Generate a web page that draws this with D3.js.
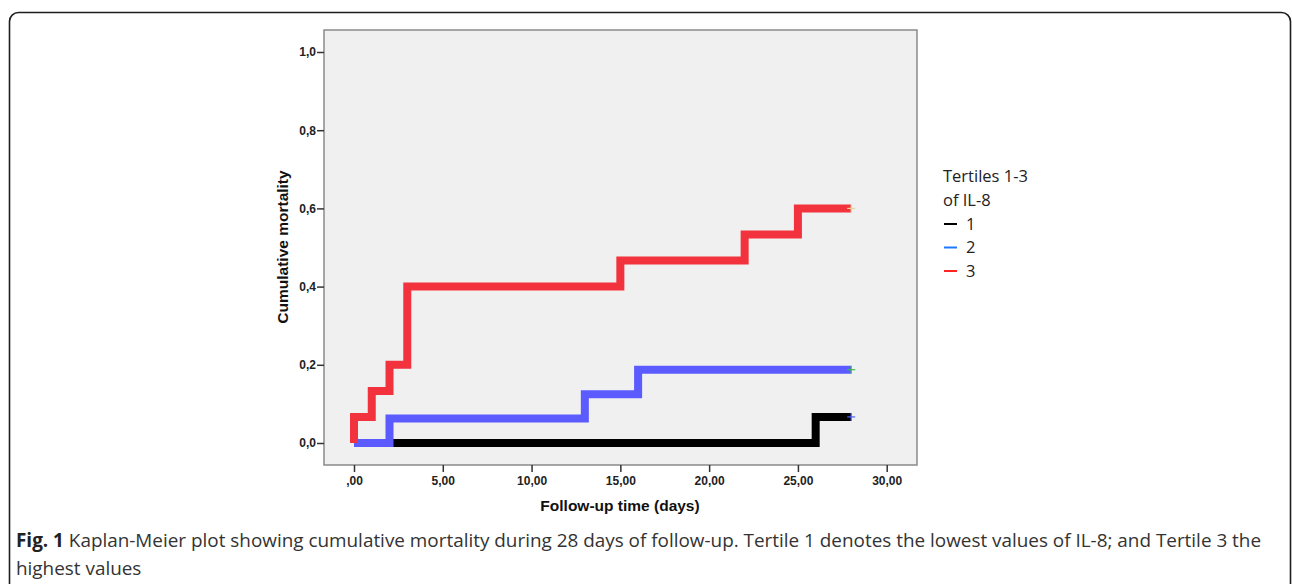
<!DOCTYPE html>
<html>
<head>
<meta charset="utf-8">
<script src="https://cdn.jsdelivr.net/npm/d3@7"></script>
<style>
  body { margin: 0; background: #fff; }
  svg { display: block; }
</style>
</head>
<body>
<div id="chart"></div>
<script>
// data
const seriesNames = ["1", "2", "3"];
const tertile1Times = [0, 26, 28];
const tertile1Values = [0, 0.0667, 0.0667];
const tertile2Times = [0, 2, 13, 16, 28];
const tertile2Values = [0, 0.0625, 0.125, 0.1875, 0.1875];
const tertile3Times = [0, 0, 1, 2, 3, 15, 22, 25, 28];
const tertile3Values = [0, 0.0667, 0.1333, 0.2, 0.4, 0.4667, 0.5333, 0.6, 0.6];
const xTicks = [0, 5, 10, 15, 20, 25, 30];
const xTickLabels = [",00", "5,00", "10,00", "15,00", "20,00", "25,00", "30,00"];
const yTicks = [0, 0.2, 0.4, 0.6, 0.8, 1.0];
const yTickLabels = ["0,0", "0,2", "0,4", "0,6", "0,8", "1,0"];

const lineColors = ["#000000", "#5b5bff", "#f2323c"];
const censorColors = ["#4a62ff", "#3cbf4a", "#e6d49a"];
const legendColors = ["#000000", "#1f78ff", "#ff2424"];

const W = 1292, H = 584;
const svg = d3.select("#chart").append("svg")
    .attr("width", W)
    .attr("height", H);

// outer figure frame
svg.append("rect")
    .attr("x", 9.5).attr("y", 12.5)
    .attr("width", 1281).attr("height", 620)
    .attr("rx", 9)
    .attr("fill", "none")
    .attr("stroke", "#1e1e1e")
    .attr("stroke-width", 1.6);

// plot area
const plot = {left: 324, top: 30, right: 917, bottom: 465};
svg.append("rect")
    .attr("x", plot.left).attr("y", plot.top)
    .attr("width", plot.right - plot.left)
    .attr("height", plot.bottom - plot.top)
    .attr("fill", "#f0f0f0")
    .attr("stroke", "#8a8a8a")
    .attr("stroke-width", 1.5);

const x = d3.scaleLinear().domain([0, 30]).range([354, 886.7]);
const y = d3.scaleLinear().domain([0, 1]).range([443, 52]);

// X axis
const xAxis = svg.append("g")
    .attr("transform", "translate(0," + plot.bottom + ")")
    .call(d3.axisBottom(x).tickValues(xTicks)
        .tickFormat((d, i) => xTickLabels[i])
        .tickSize(7).tickPadding(4));

// Y axis
const yAxis = svg.append("g")
    .attr("transform", "translate(" + plot.left + ",0)")
    .call(d3.axisLeft(y).tickValues(yTicks)
        .tickFormat((d, i) => yTickLabels[i])
        .tickSize(7).tickPadding(1));

[xAxis, yAxis].forEach(g => {
    g.select(".domain").remove();
    g.selectAll("line").attr("stroke", "#333").attr("stroke-width", 1.5);
    g.selectAll("text")
        .attr("fill", "#222")
        .style("font-family", "'Liberation Sans', Arial, sans-serif")
        .style("font-weight", "bold")
        .style("font-size", "12px");
});

// axis titles
svg.append("text")
    .attr("x", 620).attr("y", 511)
    .attr("text-anchor", "middle")
    .style("font-family", "'Liberation Sans', Arial, sans-serif")
    .style("font-weight", "bold")
    .style("font-size", "15.5px")
    .attr("fill", "#111")
    .text("Follow-up time (days)");

svg.append("text")
    .attr("transform", "translate(288,247) rotate(-90)")
    .attr("text-anchor", "middle")
    .style("font-family", "'Liberation Sans', Arial, sans-serif")
    .style("font-weight", "bold")
    .style("font-size", "15.5px")
    .attr("fill", "#111")
    .text("Cumulative mortality");

// step curves
const series = [
    {times: tertile1Times, values: tertile1Values},
    {times: tertile2Times, values: tertile2Values},
    {times: tertile3Times, values: tertile3Values}
];

const line = d3.line()
    .x(d => x(d[0]))
    .y(d => y(d[1]))
    .curve(d3.curveStepAfter);

series.forEach((s, i) => {
    const pts = s.times.map((t, j) => [t, s.values[j]]);
    svg.append("path")
        .datum(pts)
        .attr("d", line)
        .attr("fill", "none")
        .attr("stroke", lineColors[i])
        .attr("stroke-width", 8)
        .attr("stroke-linejoin", "miter")
        .attr("stroke-linecap", "butt");
});

// censor marks at the end of follow-up
series.forEach((s, i) => {
    const n = s.times.length - 1;
    const cx = x(s.times[n]), cy = y(s.values[n]);
    const g = svg.append("g").attr("stroke", censorColors[i]).attr("stroke-width", 1.2);
    g.append("line").attr("x1", cx - 4).attr("x2", cx + 4).attr("y1", cy).attr("y2", cy);
    g.append("line").attr("x1", cx).attr("x2", cx).attr("y1", cy - 4).attr("y2", cy + 4);
});

// legend
const legend = svg.append("g")
    .style("font-family", "'Open Sans', sans-serif")
    .style("font-size", "16.5px")
    .attr("fill", "#222");
legend.append("text").attr("x", 943).attr("y", 182).text("Tertiles 1-3");
legend.append("text").attr("x", 943).attr("y", 206).text("of IL-8");
seriesNames.forEach((name, i) => {
    const cy = 224 + i * 23.5;
    legend.append("line")
        .attr("x1", 944).attr("x2", 957)
        .attr("y1", cy).attr("y2", cy)
        .attr("stroke", legendColors[i])
        .attr("stroke-width", 2);
    legend.append("text").attr("x", 966).attr("y", cy + 5.5).text(name);
});

// caption
const caption = svg.append("g")
    .style("font-family", "'Open Sans', sans-serif")
    .style("font-size", "18.9px")
    .attr("fill", "#333");
const line1 = caption.append("text").attr("x", 16).attr("y", 547);
line1.append("tspan").style("font-weight", "bold").attr("fill", "#222").text("Fig. 1");
line1.append("tspan").text(" Kaplan-Meier plot showing cumulative mortality during 28 days of follow-up. Tertile 1 denotes the lowest values of IL-8; and Tertile 3 the");
caption.append("text").attr("x", 16).attr("y", 575).text("highest values");
</script>
</body>
</html>
